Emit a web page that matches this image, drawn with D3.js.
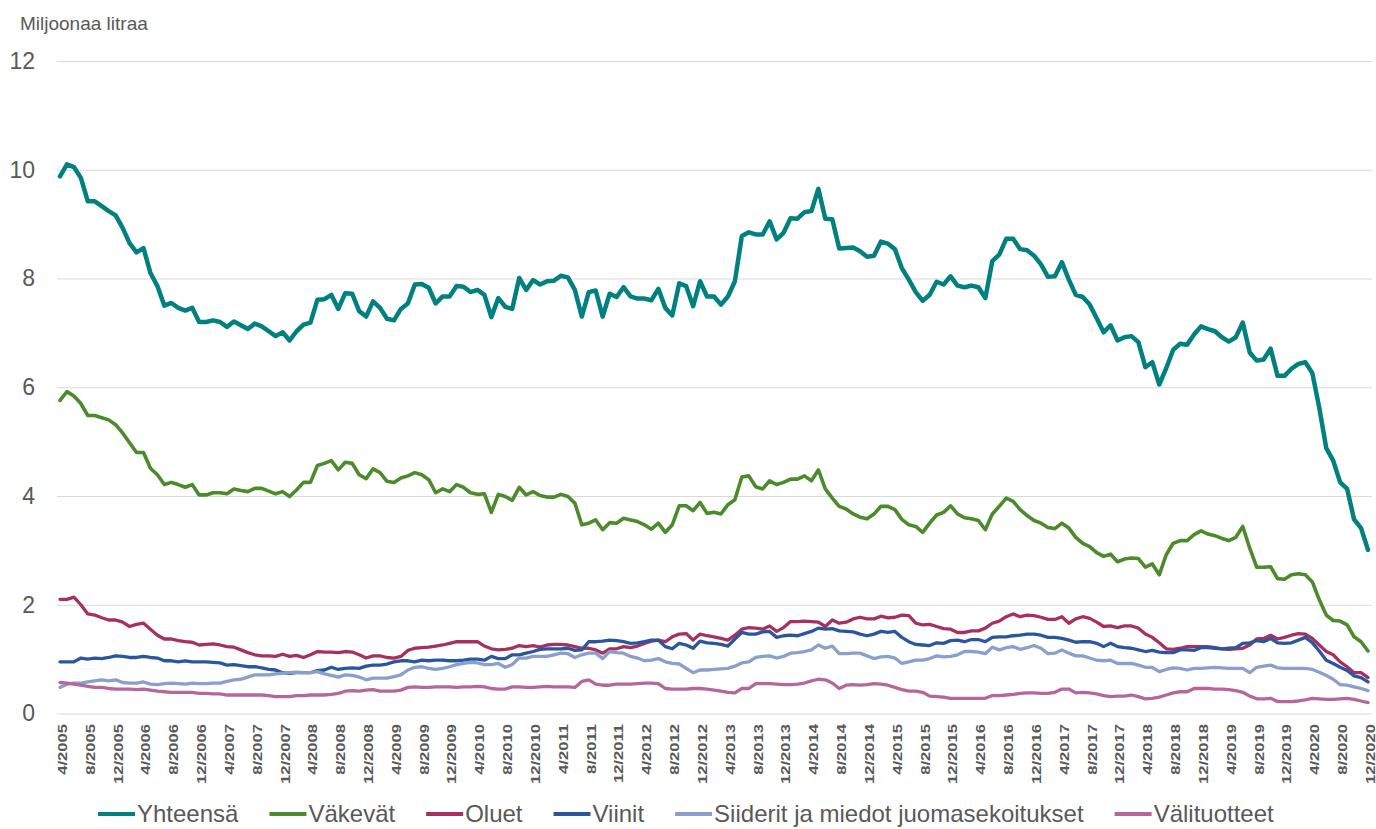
<!DOCTYPE html>
<html>
<head>
<meta charset="utf-8">
<script src="https://cdn.jsdelivr.net/npm/d3@7"></script>
<style>
  body { margin: 0; background: #fff; }
  #graphic { width: 1376px; height: 829px; }
  text { font-family: "Liberation Sans", Arial, sans-serif; fill: #595959; }
  .x.axis text { font-weight: bold; font-size: 12.5px; }
  .y.axis text { font-size: 23px; }
  .legend--text { font-size: 24px; }
</style>
</head>
<body>
<div id="graphic"></div>
<script>
// monthly data 4/2005 - 12/2020, million litres
var startYear = 2005, startMonth = 4, endYear = 2020, endMonth = 12;

var seriesNames = ["Yhteensä", "Väkevät", "Oluet", "Viinit", "Siiderit ja miedot juomasekoitukset", "Välituotteet"];
var colours = ["#00807f", "#4b8b2b", "#a6305f", "#2a56a0", "#8a9fcb", "#b5679c"];
var lineWidths = [4.5, 3.6, 3.3, 3.3, 3.3, 3.3];

var yTicks = [0, 2, 4, 6, 8, 10, 12];

var yhteensa = [9.88,10.10,10.05,9.85,9.42,9.42,9.33,9.24,9.16,8.93,8.65,8.48,8.56,8.10,7.86,7.50,7.55,7.46,7.41,7.46,
  7.20,7.20,7.23,7.20,7.11,7.21,7.14,7.07,7.17,7.12,7.03,6.94,7.01,6.86,7.03,7.15,7.19,7.61,7.62,7.70,
  7.44,7.73,7.72,7.40,7.30,7.58,7.46,7.26,7.23,7.44,7.54,7.89,7.90,7.83,7.54,7.67,7.67,7.86,7.85,7.75,
  7.79,7.70,7.29,7.64,7.48,7.44,8.01,7.79,7.97,7.89,7.95,7.96,8.05,8.02,7.79,7.30,7.75,7.78,7.30,7.72,
  7.66,7.84,7.67,7.63,7.63,7.60,7.81,7.46,7.32,7.91,7.86,7.49,7.95,7.67,7.67,7.52,7.67,7.95,8.78,8.85,
  8.81,8.81,9.05,8.72,8.84,9.11,9.10,9.22,9.24,9.65,9.10,9.09,8.55,8.56,8.57,8.50,8.40,8.42,8.68,8.64,
  8.54,8.19,7.98,7.75,7.59,7.70,7.94,7.89,8.04,7.87,7.84,7.87,7.84,7.64,8.32,8.44,8.73,8.73,8.54,8.52,
  8.42,8.26,8.03,8.04,8.30,7.98,7.70,7.66,7.52,7.27,7.01,7.14,6.86,6.92,6.94,6.83,6.37,6.46,6.05,6.35,
  6.69,6.80,6.78,6.97,7.12,7.07,7.03,6.92,6.84,6.92,7.19,6.64,6.49,6.51,6.71,6.21,6.21,6.34,6.43,6.46,
  6.26,5.62,4.88,4.65,4.25,4.13,3.57,3.41,3.01];

var vakevat = [5.76,5.92,5.84,5.70,5.48,5.48,5.44,5.40,5.31,5.16,4.98,4.80,4.80,4.51,4.39,4.21,4.25,4.21,4.16,4.21,
  4.02,4.02,4.06,4.06,4.04,4.13,4.10,4.08,4.14,4.14,4.09,4.04,4.08,3.99,4.11,4.25,4.25,4.56,4.60,4.65,
  4.48,4.62,4.60,4.39,4.32,4.50,4.43,4.27,4.25,4.33,4.37,4.43,4.39,4.30,4.06,4.13,4.08,4.21,4.16,4.06,
  4.03,4.04,3.70,4.03,3.99,3.92,4.16,4.02,4.08,4.01,3.98,3.98,4.03,3.99,3.87,3.47,3.50,3.56,3.38,3.51,
  3.50,3.59,3.56,3.53,3.47,3.39,3.50,3.33,3.47,3.82,3.82,3.73,3.88,3.68,3.70,3.67,3.84,3.93,4.35,4.37,
  4.17,4.13,4.28,4.21,4.25,4.31,4.31,4.37,4.28,4.48,4.13,3.96,3.81,3.76,3.67,3.61,3.58,3.67,3.81,3.81,
  3.75,3.57,3.47,3.44,3.33,3.50,3.65,3.70,3.82,3.67,3.60,3.58,3.55,3.38,3.67,3.81,3.96,3.90,3.75,3.64,
  3.55,3.50,3.42,3.40,3.50,3.41,3.24,3.13,3.07,2.96,2.89,2.93,2.79,2.84,2.86,2.85,2.69,2.75,2.55,2.92,
  3.13,3.18,3.18,3.29,3.36,3.30,3.27,3.22,3.18,3.24,3.44,3.04,2.69,2.69,2.70,2.48,2.47,2.55,2.57,2.55,
  2.42,2.09,1.81,1.71,1.70,1.63,1.41,1.32,1.15];

var oluet = [2.10,2.10,2.14,2.00,1.83,1.81,1.76,1.72,1.72,1.68,1.60,1.64,1.66,1.55,1.44,1.37,1.37,1.34,1.32,1.31,
  1.26,1.27,1.28,1.26,1.23,1.22,1.17,1.12,1.08,1.06,1.06,1.05,1.09,1.05,1.07,1.03,1.08,1.14,1.13,1.13,
  1.12,1.14,1.13,1.08,1.02,1.06,1.06,1.03,1.02,1.05,1.16,1.20,1.21,1.22,1.24,1.26,1.29,1.32,1.32,1.32,
  1.32,1.24,1.19,1.17,1.18,1.20,1.25,1.23,1.25,1.22,1.26,1.27,1.27,1.26,1.23,1.20,1.20,1.17,1.11,1.19,
  1.19,1.23,1.21,1.24,1.29,1.33,1.35,1.32,1.41,1.46,1.47,1.35,1.46,1.43,1.41,1.38,1.35,1.44,1.55,1.58,
  1.57,1.55,1.61,1.51,1.58,1.69,1.69,1.70,1.69,1.68,1.60,1.72,1.66,1.68,1.74,1.77,1.74,1.74,1.79,1.76,
  1.77,1.81,1.80,1.66,1.63,1.64,1.60,1.56,1.55,1.49,1.49,1.52,1.52,1.57,1.66,1.70,1.78,1.83,1.78,1.81,
  1.80,1.77,1.73,1.73,1.78,1.66,1.74,1.78,1.75,1.68,1.60,1.61,1.58,1.61,1.61,1.57,1.46,1.40,1.30,1.19,
  1.18,1.20,1.23,1.23,1.23,1.23,1.21,1.19,1.18,1.19,1.20,1.26,1.37,1.38,1.44,1.37,1.40,1.44,1.47,1.46,
  1.38,1.26,1.14,1.08,0.95,0.86,0.75,0.75,0.66];

var viinit = [0.95,0.95,0.95,1.02,1.00,1.02,1.01,1.03,1.06,1.05,1.03,1.03,1.05,1.03,1.02,0.97,0.97,0.95,0.97,0.95,
  0.95,0.95,0.94,0.93,0.89,0.90,0.88,0.86,0.86,0.84,0.81,0.80,0.75,0.74,0.75,0.75,0.75,0.79,0.80,0.85,
  0.81,0.83,0.84,0.83,0.87,0.89,0.89,0.91,0.95,0.97,0.97,0.95,0.98,0.97,0.98,0.98,0.97,0.97,0.98,1.00,
  1.00,0.98,1.05,1.01,1.01,1.08,1.08,1.11,1.14,1.18,1.19,1.19,1.19,1.20,1.16,1.17,1.32,1.32,1.33,1.35,
  1.34,1.32,1.29,1.30,1.32,1.35,1.35,1.23,1.19,1.29,1.26,1.20,1.33,1.30,1.29,1.27,1.24,1.37,1.49,1.46,
  1.46,1.50,1.51,1.40,1.43,1.44,1.43,1.47,1.51,1.57,1.55,1.56,1.52,1.51,1.50,1.46,1.43,1.46,1.51,1.49,
  1.51,1.40,1.32,1.27,1.26,1.25,1.30,1.29,1.34,1.35,1.32,1.36,1.36,1.32,1.40,1.41,1.41,1.43,1.44,1.46,
  1.46,1.44,1.40,1.40,1.38,1.35,1.31,1.32,1.32,1.29,1.23,1.29,1.23,1.21,1.20,1.17,1.14,1.16,1.13,1.12,
  1.12,1.17,1.17,1.16,1.21,1.21,1.20,1.19,1.20,1.21,1.29,1.30,1.34,1.32,1.38,1.30,1.29,1.30,1.35,1.40,
  1.30,1.15,0.98,0.92,0.85,0.79,0.69,0.66,0.58];

var siiderit = [0.48,0.54,0.56,0.56,0.58,0.60,0.62,0.60,0.62,0.57,0.56,0.56,0.58,0.54,0.53,0.55,0.56,0.55,0.54,0.56,
  0.55,0.55,0.56,0.56,0.59,0.62,0.63,0.67,0.71,0.71,0.71,0.73,0.74,0.75,0.76,0.75,0.75,0.77,0.73,0.70,
  0.67,0.71,0.70,0.67,0.62,0.65,0.65,0.65,0.68,0.71,0.80,0.85,0.86,0.83,0.81,0.83,0.86,0.90,0.92,0.94,
  0.93,0.90,0.90,0.92,0.85,0.90,1.02,1.02,1.05,1.05,1.05,1.08,1.11,1.10,1.03,1.08,1.11,1.11,1.01,1.14,
  1.12,1.11,1.05,1.02,0.97,0.98,1.01,0.95,0.92,0.91,0.83,0.75,0.80,0.80,0.81,0.82,0.83,0.87,0.93,0.95,
  1.03,1.05,1.06,1.02,1.05,1.11,1.12,1.14,1.17,1.26,1.20,1.24,1.10,1.10,1.11,1.11,1.06,1.01,1.04,1.05,
  1.02,0.92,0.95,0.98,0.98,1.01,1.06,1.04,1.05,1.08,1.14,1.14,1.13,1.10,1.22,1.17,1.21,1.23,1.18,1.21,
  1.25,1.20,1.10,1.11,1.17,1.11,1.06,1.06,1.02,0.98,0.97,0.98,0.92,0.92,0.92,0.89,0.85,0.85,0.77,0.81,
  0.84,0.83,0.80,0.83,0.83,0.84,0.85,0.84,0.83,0.83,0.83,0.75,0.85,0.87,0.89,0.84,0.83,0.83,0.83,0.83,
  0.81,0.76,0.70,0.63,0.53,0.52,0.49,0.46,0.42];

var valituotteet = [0.57,0.56,0.54,0.52,0.50,0.48,0.48,0.46,0.45,0.45,0.45,0.44,0.45,0.43,0.41,0.40,0.39,0.39,0.39,0.39,
  0.37,0.37,0.36,0.36,0.34,0.34,0.34,0.34,0.34,0.34,0.33,0.31,0.31,0.31,0.33,0.33,0.34,0.34,0.34,0.35,
  0.37,0.41,0.42,0.41,0.43,0.44,0.41,0.41,0.41,0.43,0.48,0.49,0.48,0.48,0.49,0.49,0.49,0.48,0.49,0.49,
  0.50,0.49,0.46,0.45,0.45,0.49,0.49,0.48,0.48,0.49,0.50,0.49,0.49,0.49,0.48,0.59,0.62,0.54,0.52,0.52,
  0.54,0.54,0.54,0.55,0.56,0.56,0.55,0.46,0.45,0.45,0.45,0.46,0.46,0.45,0.43,0.41,0.39,0.38,0.46,0.46,
  0.55,0.55,0.55,0.54,0.53,0.53,0.54,0.56,0.60,0.63,0.62,0.56,0.46,0.52,0.53,0.52,0.53,0.55,0.54,0.52,
  0.48,0.44,0.41,0.41,0.39,0.32,0.31,0.30,0.28,0.28,0.28,0.28,0.28,0.28,0.33,0.33,0.34,0.35,0.37,0.38,
  0.38,0.37,0.37,0.39,0.45,0.45,0.38,0.39,0.38,0.36,0.33,0.31,0.32,0.32,0.34,0.31,0.27,0.28,0.30,0.34,
  0.38,0.40,0.40,0.46,0.46,0.46,0.45,0.45,0.44,0.42,0.39,0.32,0.27,0.27,0.28,0.22,0.22,0.22,0.23,0.25,
  0.28,0.27,0.26,0.26,0.27,0.28,0.26,0.23,0.20];

var seriesValues = [yhteensa, vakevat, oluet, viinit, siiderit, valituotteet];

// month labels like "4/2005"
var months = [];
for (var yr = startYear, mo = startMonth; yr < endYear || (yr == endYear && mo <= endMonth);) {
  months.push(mo + "/" + yr);
  mo++;
  if (mo > 12) { mo = 1; yr++; }
}
// a label every fourth month
var tickLabels = months.filter(function(d, i) { return i % 4 == 0; });

var width = 1376, height = 829;

var svg = d3.select('#graphic').append('svg')
  .attr('width', width)
  .attr('height', height);

var x = d3.scalePoint()
  .domain(months)
  .range([60, 1368]);

var y = d3.scaleLinear()
  .domain([0, 12])
  .range([713.5, 61]);

// unit label
svg.append('text')
  .attr('x', 20)
  .attr('y', 30)
  .style('font-size', '19px')
  .text('Miljoonaa litraa');

// y axis with gridlines
svg.append('g')
  .attr('class', 'y axis')
  .attr('transform', 'translate(57,0)')
  .call(d3.axisLeft(y).tickValues(yTicks).tickSize(-1315).tickPadding(22))
  .call(function(g) {
    g.select('.domain').remove();
    g.selectAll('line').attr('stroke', '#d9d9d9').attr('stroke-width', 1);
    g.selectAll('text').attr('fill', '#595959');
  });

// x axis, rotated month labels
svg.append('g')
  .attr('class', 'x axis')
  .attr('transform', 'translate(0,713)')
  .call(d3.axisBottom(x).tickValues(tickLabels).tickSize(0))
  .call(function(g) {
    g.select('.domain').remove();
    g.selectAll('text')
      .attr('fill', '#595959')
      .attr('x', 0)
      .attr('y', 0)
      .attr('dy', '0.35em')
      .attr('text-anchor', 'end')
      .attr('transform', 'translate(2,11) rotate(-90) scale(1.33,1)');
  });

var line = d3.line()
  .x(function(d, i) { return x(months[i]); })
  .y(function(d) { return y(d); });

svg.append('g')
  .attr('class', 'lines')
  .selectAll('path')
  .data(seriesValues)
  .join('path')
  .attr('d', line)
  .attr('fill', 'none')
  .attr('stroke', function(d, i) { return colours[i]; })
  .attr('stroke-width', function(d, i) { return lineWidths[i]; })
  .attr('stroke-linejoin', 'round')
  .attr('stroke-linecap', 'round');

// legend along the bottom
var legend = svg.append('g').attr('class', 'legend');
var lx = 98, ly = 814;
seriesNames.forEach(function(name, i) {
  legend.append('line')
    .attr('x1', lx).attr('x2', lx + 37)
    .attr('y1', ly).attr('y2', ly)
    .attr('stroke', colours[i])
    .attr('stroke-width', 4);
  var t = legend.append('text')
    .attr('class', 'legend--text')
    .attr('x', lx + 39)
    .attr('y', ly)
    .attr('dy', '0.35em')
    .text(name);
  lx = lx + 39 + t.node().getComputedTextLength() + 31;
});
</script>
</body>
</html>
